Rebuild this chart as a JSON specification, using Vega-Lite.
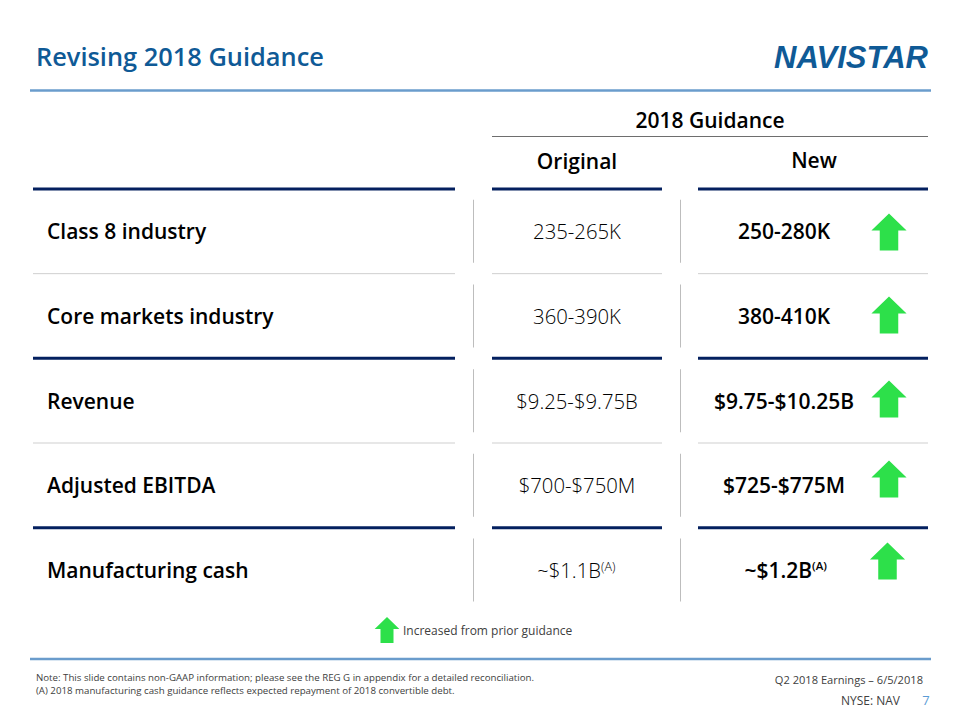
{
"$schema":"https://vega.github.io/schema/vega-lite/v6.json",
"width":960,"height":720,
"autosize":{"type":"fit","contains":"padding"},
"padding":0,
"background":"white",
"config":{"view":{"stroke":null},"axis":{"domain":false},"text":{"font":"Open Sans"}},
"resolve":{"scale":{"y":"independent"}},
"datasets":{
"rulesPage":[{"line":1,"from":0,"to":25},{"line":12,"from":0,"to":25}],
"ruleHead":[{"line":3,"from":8,"to":24}],
"sepDark":[{"row":"top","from":1,"to":6},{"row":"top","from":8,"to":11},{"row":"top","from":13,"to":24},{"row":"s2","from":1,"to":6},{"row":"s2","from":8,"to":11},{"row":"s2","from":13,"to":24},{"row":"s4","from":1,"to":6},{"row":"s4","from":8,"to":11},{"row":"s4","from":13,"to":24}],
"sepLight":[{"row":"s1","from":1,"to":6},{"row":"s1","from":8,"to":11},{"row":"s1","from":13,"to":24},{"row":"s3","from":1,"to":6},{"row":"s3","from":8,"to":11},{"row":"s3","from":13,"to":24}],
"dividers":[{"row":"Class 8 industry","col":7},{"row":"Core markets industry","col":7},{"row":"Revenue","col":7},{"row":"Adjusted EBITDA","col":7},{"row":"Manufacturing cash","col":7},{"row":"Class 8 industry","col":12},{"row":"Core markets industry","col":12},{"row":"Revenue","col":12},{"row":"Adjusted EBITDA","col":12},{"row":"Manufacturing cash","col":12}],
"metrics":[{"row":"Class 8 industry","col":3},{"row":"Core markets industry","col":3},{"row":"Revenue","col":3},{"row":"Adjusted EBITDA","col":3},{"row":"Manufacturing cash","col":3}],
"original":[{"row":"Class 8 industry","value":"235-265K","col":9},{"row":"Core markets industry","value":"360-390K","col":9},{"row":"Revenue","value":"$9.25-$9.75B","col":9},{"row":"Adjusted EBITDA","value":"$700-$750M","col":9}],
"newValues":[{"row":"Class 8 industry","value":"250-280K","col":15},{"row":"Core markets industry","value":"380-410K","col":15},{"row":"Revenue","value":"$9.75-$10.25B","col":15},{"row":"Adjusted EBITDA","value":"$725-$775M","col":15}],
"arrows":[{"metric":"Class 8 industry","line":6,"col":20},{"metric":"Core markets industry","line":7,"col":20},{"metric":"Revenue","line":8,"col":20},{"metric":"Adjusted EBITDA","line":9,"col":20},{"metric":"Manufacturing cash","line":10,"col":19}],
"headers":[{"label":"2018 Guidance","line":2,"col":14},{"label":"Original","line":5,"col":9},{"label":"New","line":4,"col":17}]
},
"layer":[
{"data":{"name":"rulesPage"},"mark":{"type":"rule","color":"#6a9ccc","strokeWidth":2.5},
 "encoding":{"x":{"field":"from","type":"quantitative","axis":null,"scale":{"domain":[0,1,2,3,4,5,6,7,8,9,10,11,12,13,14,15,16,17,18,19,20,21,22,23,24,25],"range":[30,33,36,47,387,403,455,473.5,492,577,601,662,680.5,698,710,784,812,814,851,887.5,889,900,923,926,928,931],"zero":false,"nice":false}},"x2":{"field":"to"},
 "y":{"field":"line","type":"quantitative","axis":null,"scale":{"domain":[0,1,2,3,4,5,6,7,8,9,10,11,12,13,14,15,16],"range":[57,90.5,120,136.5,160,161,232,315,399,479,561,630,659,677,680,690,701],"zero":false,"nice":false}}}},
{"data":{"name":"ruleHead"},"mark":{"type":"rule","color":"#6e6e6e","strokeWidth":1},
 "encoding":{"x":{"field":"from","type":"quantitative","axis":null},"x2":{"field":"to"},
 "y":{"field":"line","type":"quantitative","axis":null,"scale":{"domain":[0,1,2,3,4,5,6,7,8,9,10,11,12,13,14,15,16],"range":[57,90.5,120,136.5,160,161,232,315,399,479,561,630,659,677,680,690,701],"zero":false,"nice":false}}}},
{"data":{"name":"sepDark"},"mark":{"type":"rule","color":"#04205f","strokeWidth":3},
 "encoding":{"x":{"field":"from","type":"quantitative","axis":null},"x2":{"field":"to"},
 "y":{"field":"row","type":"nominal","axis":null,"scale":{"type":"point","padding":0,"domain":["top","Class 8 industry","s1","Core markets industry","s2","Revenue","s3","Adjusted EBITDA","s4","Manufacturing cash"],"range":[189,570]}}}},
{"data":{"name":"sepLight"},"mark":{"type":"rule","color":"#cfcfcf","strokeWidth":1},
 "encoding":{"x":{"field":"from","type":"quantitative","axis":null},"x2":{"field":"to"},
 "y":{"field":"row","type":"nominal","axis":null,"scale":{"type":"point","padding":0,"domain":["top","Class 8 industry","s1","Core markets industry","s2","Revenue","s3","Adjusted EBITDA","s4","Manufacturing cash"],"range":[189,570]}}}},
{"data":{"name":"dividers"},"mark":{"type":"tick","orient":"vertical","color":"#bdbdbd","size":63,"thickness":1,"opacity":1},
 "encoding":{"x":{"field":"col","type":"quantitative","axis":null},
 "y":{"field":"row","type":"nominal","axis":null,"scale":{"type":"point","padding":0,"domain":["top","Class 8 industry","s1","Core markets industry","s2","Revenue","s3","Adjusted EBITDA","s4","Manufacturing cash"],"range":[189,570]}}}},
{"data":{"name":"metrics"},"mark":{"type":"text","align":"left","baseline":"middle","fontSize":21,"fontWeight":600,"color":"#000000","dy":2},
 "encoding":{"text":{"field":"row"},"x":{"field":"col","type":"quantitative","axis":null},
 "y":{"field":"row","type":"nominal","axis":null,"scale":{"type":"point","padding":0,"domain":["top","Class 8 industry","s1","Core markets industry","s2","Revenue","s3","Adjusted EBITDA","s4","Manufacturing cash"],"range":[189,570]}}}},
{"data":{"name":"original"},"mark":{"type":"text","align":"center","baseline":"middle","fontSize":20.3,"fontWeight":300,"color":"#000000","dy":2},
 "encoding":{"text":{"field":"value"},"x":{"field":"col","type":"quantitative","axis":null},
 "y":{"field":"row","type":"nominal","axis":null,"scale":{"type":"point","padding":0,"domain":["top","Class 8 industry","s1","Core markets industry","s2","Revenue","s3","Adjusted EBITDA","s4","Manufacturing cash"],"range":[189,570]}}}},
{"data":{"name":"newValues"},"mark":{"type":"text","align":"center","baseline":"middle","fontSize":21,"fontWeight":600,"color":"#000000","dy":2},
 "encoding":{"text":{"field":"value"},"x":{"field":"col","type":"quantitative","axis":null},
 "y":{"field":"row","type":"nominal","axis":null,"scale":{"type":"point","padding":0,"domain":["top","Class 8 industry","s1","Core markets industry","s2","Revenue","s3","Adjusted EBITDA","s4","Manufacturing cash"],"range":[189,570]}}}},
{"data":{"values":[{"row":"Manufacturing cash","value":"~$1.1B","col":10}]},"mark":{"type":"text","align":"right","baseline":"middle","fontSize":20.3,"fontWeight":300,"color":"#000000","dy":2},
 "encoding":{"text":{"field":"value"},"x":{"field":"col","type":"quantitative","axis":null},
 "y":{"field":"row","type":"nominal","axis":null,"scale":{"type":"point","padding":0,"domain":["top","Class 8 industry","s1","Core markets industry","s2","Revenue","s3","Adjusted EBITDA","s4","Manufacturing cash"],"range":[189,570]}}}},
{"data":{"values":[{"row":"Manufacturing cash","value":"~$1.2B","col":16}]},"mark":{"type":"text","align":"right","baseline":"middle","fontSize":21,"fontWeight":600,"color":"#000000","dy":2},
 "encoding":{"text":{"field":"value"},"x":{"field":"col","type":"quantitative","axis":null},
 "y":{"field":"row","type":"nominal","axis":null,"scale":{"type":"point","padding":0,"domain":["top","Class 8 industry","s1","Core markets industry","s2","Revenue","s3","Adjusted EBITDA","s4","Manufacturing cash"],"range":[189,570]}}}},
{"data":{"values":[{"row":"Manufacturing cash","value":"(A)","col":10}]},"mark":{"type":"text","align":"left","baseline":"middle","fontSize":12.5,"fontWeight":300,"color":"#000000","dy":-3},
 "encoding":{"text":{"field":"value"},"x":{"field":"col","type":"quantitative","axis":null},
 "y":{"field":"row","type":"nominal","axis":null,"scale":{"type":"point","padding":0,"domain":["top","Class 8 industry","s1","Core markets industry","s2","Revenue","s3","Adjusted EBITDA","s4","Manufacturing cash"],"range":[189,570]}}}},
{"data":{"values":[{"row":"Manufacturing cash","value":"(A)","col":16}]},"mark":{"type":"text","align":"left","baseline":"middle","fontSize":11.5,"fontWeight":600,"color":"#000000","dy":-3},
 "encoding":{"text":{"field":"value"},"x":{"field":"col","type":"quantitative","axis":null},
 "y":{"field":"row","type":"nominal","axis":null,"scale":{"type":"point","padding":0,"domain":["top","Class 8 industry","s1","Core markets industry","s2","Revenue","s3","Adjusted EBITDA","s4","Manufacturing cash"],"range":[189,570]}}}},
{"data":{"name":"arrows"},"mark":{"type":"point","filled":true,"opacity":1,"color":"#2de04a","size":1369,"shape":"M0,-1L0.95,-0.08L0.5,-0.08L0.5,1L-0.5,1L-0.5,-0.08L-0.95,-0.08Z"},
 "encoding":{"x":{"field":"col","type":"quantitative","axis":null},
 "y":{"field":"line","type":"quantitative","axis":null,"scale":{"domain":[0,1,2,3,4,5,6,7,8,9,10,11,12,13,14,15,16],"range":[57,90.5,120,136.5,160,161,232,315,399,479,561,630,659,677,680,690,701],"zero":false,"nice":false}}}},
{"data":{"values":[{"label":"Increased from prior guidance","col":4,"line":11}]},"mark":{"type":"point","filled":true,"opacity":1,"color":"#2de04a","size":676,"shape":"M0,-1L0.95,-0.08L0.5,-0.08L0.5,1L-0.5,1L-0.5,-0.08L-0.95,-0.08Z"},
 "encoding":{"x":{"field":"col","type":"quantitative","axis":null},
 "y":{"field":"line","type":"quantitative","axis":null,"scale":{"domain":[0,1,2,3,4,5,6,7,8,9,10,11,12,13,14,15,16],"range":[57,90.5,120,136.5,160,161,232,315,399,479,561,630,659,677,680,690,701],"zero":false,"nice":false}}}},
{"data":{"values":[{"label":"Revising 2018 Guidance","col":2,"line":0}]},"mark":{"type":"text","align":"left","baseline":"middle","fontSize":25.4,"fontWeight":600,"color":"#0f5a96","dy":1},
 "encoding":{"text":{"field":"label"},"x":{"field":"col","type":"quantitative","axis":null},
 "y":{"field":"line","type":"quantitative","axis":null,"scale":{"domain":[0,1,2,3,4,5,6,7,8,9,10,11,12,13,14,15,16],"range":[57,90.5,120,136.5,160,161,232,315,399,479,561,630,659,677,680,690,701],"zero":false,"nice":false}}}},
{"data":{"values":[{"label":"NAVISTAR","col":18,"line":0}]},"mark":{"type":"text","align":"center","baseline":"middle","font":"Liberation Sans","fontSize":31,"fontWeight":"bold","fontStyle":"italic","color":"#0f5a96","dy":2},
 "encoding":{"text":{"field":"label"},"x":{"field":"col","type":"quantitative","axis":null},
 "y":{"field":"line","type":"quantitative","axis":null,"scale":{"domain":[0,1,2,3,4,5,6,7,8,9,10,11,12,13,14,15,16],"range":[57,90.5,120,136.5,160,161,232,315,399,479,561,630,659,677,680,690,701],"zero":false,"nice":false}}}},
{"data":{"name":"headers"},"mark":{"type":"text","align":"center","baseline":"middle","fontSize":21,"fontWeight":600,"color":"#000000","dy":2},
 "encoding":{"text":{"field":"label"},"x":{"field":"col","type":"quantitative","axis":null},
 "y":{"field":"line","type":"quantitative","axis":null,"scale":{"domain":[0,1,2,3,4,5,6,7,8,9,10,11,12,13,14,15,16],"range":[57,90.5,120,136.5,160,161,232,315,399,479,561,630,659,677,680,690,701],"zero":false,"nice":false}}}},
{"data":{"values":[{"label":"Increased from prior guidance","col":5,"line":11}]},"mark":{"type":"text","align":"left","baseline":"middle","fontSize":12,"color":"#404040","dy":1},
 "encoding":{"text":{"field":"label"},"x":{"field":"col","type":"quantitative","axis":null},
 "y":{"field":"line","type":"quantitative","axis":null,"scale":{"domain":[0,1,2,3,4,5,6,7,8,9,10,11,12,13,14,15,16],"range":[57,90.5,120,136.5,160,161,232,315,399,479,561,630,659,677,680,690,701],"zero":false,"nice":false}}}},
{"data":{"values":[{"label":"Note:  This slide contains non-GAAP information; please see the REG G in appendix for a detailed reconciliation.","col":2,"line":13},{"label":"(A) 2018 manufacturing cash guidance reflects expected repayment of 2018 convertible debt.","col":2,"line":15}]},"mark":{"type":"text","align":"left","baseline":"middle","fontSize":9.7,"color":"#404040","dy":1},
 "encoding":{"text":{"field":"label"},"x":{"field":"col","type":"quantitative","axis":null},
 "y":{"field":"line","type":"quantitative","axis":null,"scale":{"domain":[0,1,2,3,4,5,6,7,8,9,10,11,12,13,14,15,16],"range":[57,90.5,120,136.5,160,161,232,315,399,479,561,630,659,677,680,690,701],"zero":false,"nice":false}}}},
{"data":{"values":[{"label":"Q2 2018 Earnings – 6/5/2018","col":22,"line":14}]},"mark":{"type":"text","align":"right","baseline":"middle","fontSize":11.1,"color":"#404040","dy":1},
 "encoding":{"text":{"field":"label"},"x":{"field":"col","type":"quantitative","axis":null},
 "y":{"field":"line","type":"quantitative","axis":null,"scale":{"domain":[0,1,2,3,4,5,6,7,8,9,10,11,12,13,14,15,16],"range":[57,90.5,120,136.5,160,161,232,315,399,479,561,630,659,677,680,690,701],"zero":false,"nice":false}}}},
{"data":{"values":[{"label":"NYSE: NAV","col":21,"line":16}]},"mark":{"type":"text","align":"right","baseline":"middle","fontSize":12,"color":"#404040"},
 "encoding":{"text":{"field":"label"},"x":{"field":"col","type":"quantitative","axis":null},
 "y":{"field":"line","type":"quantitative","axis":null,"scale":{"domain":[0,1,2,3,4,5,6,7,8,9,10,11,12,13,14,15,16],"range":[57,90.5,120,136.5,160,161,232,315,399,479,561,630,659,677,680,690,701],"zero":false,"nice":false}}}},
{"data":{"values":[{"label":"7","col":23,"line":16}]},"mark":{"type":"text","align":"center","baseline":"middle","fontSize":13,"color":"#5b9bd5"},
 "encoding":{"text":{"field":"label"},"x":{"field":"col","type":"quantitative","axis":null},
 "y":{"field":"line","type":"quantitative","axis":null,"scale":{"domain":[0,1,2,3,4,5,6,7,8,9,10,11,12,13,14,15,16],"range":[57,90.5,120,136.5,160,161,232,315,399,479,561,630,659,677,680,690,701],"zero":false,"nice":false}}}}
]
}
